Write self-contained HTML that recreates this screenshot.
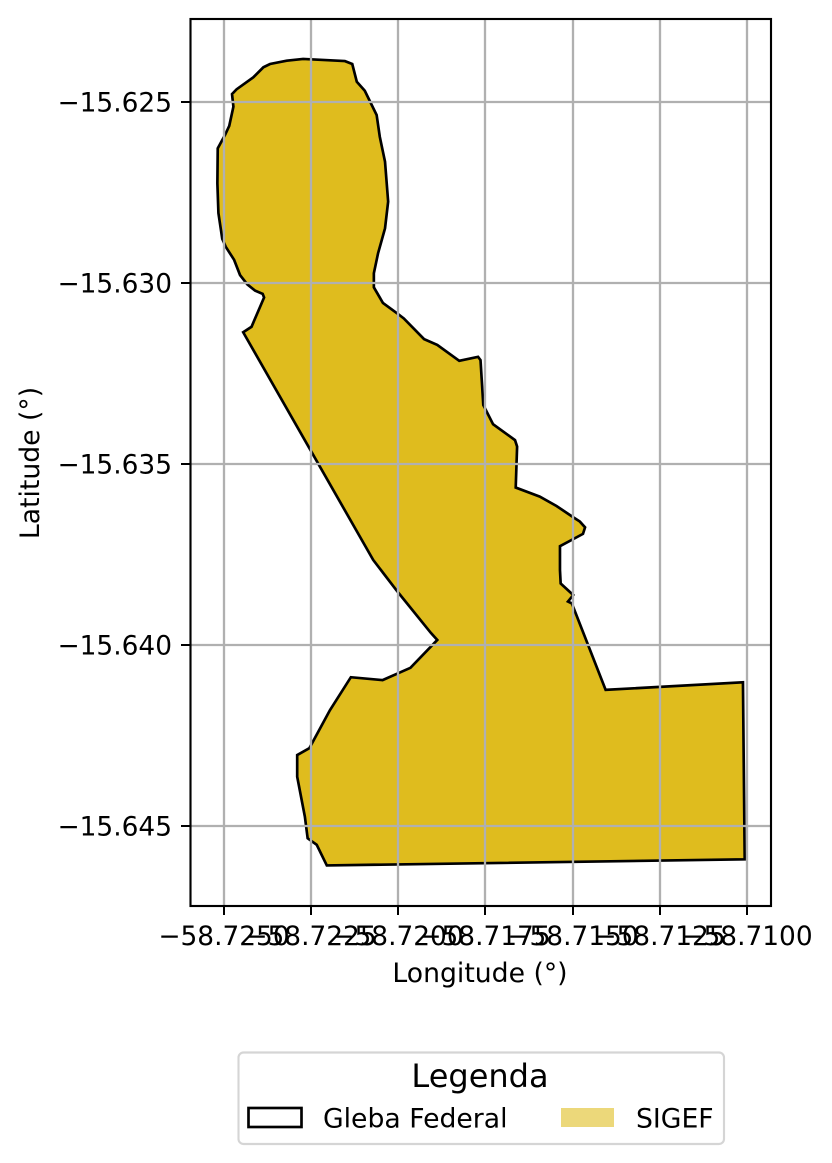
<!DOCTYPE html>
<html lang="pt">
<head>
<meta charset="utf-8">
<title>Gleba Federal e SIGEF</title>
<style>
html,body{margin:0;padding:0;background:#fff;}
svg{display:block;}
text{font-family:"DejaVu Sans","Liberation Sans",sans-serif;fill:#000;}
</style>
</head>
<body>
<svg id="chart" xmlns="http://www.w3.org/2000/svg" width="832" height="1163" viewBox="0 0 832 1163">
  <rect x="0" y="0" width="832" height="1163" fill="#ffffff"/>
  <g id="polygons"></g>
  <g id="grid"></g>
  <g id="ticks"></g>
  <rect x="190.5" y="19" width="580.5" height="887" fill="none" stroke="#000" stroke-width="2.13"/>
  <text x="480" y="982" font-size="26.67" text-anchor="middle">Longitude (°)</text>
  <text transform="translate(39,463) rotate(-90)" font-size="26.67" text-anchor="middle">Latitude (°)</text>
  <g>
    <rect x="238.5" y="1052.5" width="485.5" height="91.5" rx="5" ry="5" fill="#ffffff" stroke="#d5d5d5" stroke-width="2.13"/>
    <text x="480" y="1087" font-size="32" text-anchor="middle">Legenda</text>
    <rect x="248.5" y="1108" width="53" height="19" fill="none" stroke="#000" stroke-width="2.67"/>
    <text x="323" y="1127.5" font-size="26.67">Gleba Federal</text>
    <rect x="561" y="1108" width="53" height="19" fill="#ecd87a"/>
    <text x="636" y="1127.5" font-size="26.67">SIGEF</text>
  </g>
</svg>
<script>
var xTickValues = [-58.725, -58.7225, -58.72, -58.7175, -58.715, -58.7125, -58.71];
var xTickLabels = ['\u221258.7250', '\u221258.7225', '\u221258.7200', '\u221258.7175', '\u221258.7150', '\u221258.7125', '\u221258.7100'];
var yTickValues = [-15.625, -15.63, -15.635, -15.64, -15.645];
var yTickLabels = ['\u221215.625', '\u221215.630', '\u221215.635', '\u221215.640', '\u221215.645'];

var boundaryLon = [
-58.72445,-58.72421,-58.72385,-58.72389,-58.72411,-58.72433,-58.72454,-58.72471,-58.72495,-58.72505,
-58.72516,-58.72519,-58.72518,-58.72497,-58.72485,-58.72473,-58.72477,-58.72464,-58.72416,-58.72387,
-58.72368,-58.72320,-58.72273,-58.72153,-58.72132,-58.72119,-58.72096,-58.72062,-58.72053,-58.72038,
-58.72029,-58.72038,-58.72058,-58.72070,-58.72070,-58.72044,-58.72000,-58.71984,-58.71926,-58.71888,
-58.71825,-58.71771,-58.71764,-58.71756,-58.71728,-58.71665,-58.71659,-58.71663,-58.71594,-58.71546,
-58.71498,-58.71479,-58.71464,-58.71470,-58.71536,-58.71536,-58.71534,-58.71498,-58.71513,-58.71502,
-58.71405,-58.71011,-58.71006,-58.72205,-58.72234,-58.72260,-58.72268,-58.72290,-58.72290,-58.72255,
-58.72196,-58.72136,-58.72045,-58.71965,-58.71888,-58.71907,-58.72001,-58.72072
];
var boundaryLat = [
-15.63136,-15.63121,-15.63040,-15.63030,-15.63021,-15.63004,-15.62978,-15.62936,-15.62900,-15.62878,
-15.62807,-15.62725,-15.62628,-15.62591,-15.62566,-15.62513,-15.62478,-15.62465,-15.62432,-15.62404,
-15.62395,-15.62386,-15.62381,-15.62387,-15.62395,-15.62444,-15.62469,-15.62536,-15.62596,-15.62665,
-15.62775,-15.62849,-15.62918,-15.62973,-15.63012,-15.63055,-15.63086,-15.63098,-15.63155,-15.63171,
-15.63215,-15.63204,-15.63213,-15.63337,-15.63390,-15.63434,-15.63452,-15.63565,-15.63590,-15.63616,
-15.63647,-15.63659,-15.63675,-15.63693,-15.63727,-15.63793,-15.63830,-15.63862,-15.63880,-15.63885,
-15.64124,-15.64103,-15.64592,-15.64609,-15.64552,-15.64534,-15.64474,-15.64364,-15.64304,-15.64285,
-15.64180,-15.64089,-15.64097,-15.64063,-15.63986,-15.63966,-15.63854,-15.63765
];

var NS = 'http://www.w3.org/2000/svg';
function xAxis(lon) { return 224 + (lon + 58.725) / 0.0025 * 87.13; }
function yAxis(lat) { return 102 + (-15.625 - lat) / 0.005 * 181; }
function make(tag, parent) {
  var el = document.createElementNS(NS, tag);
  parent.appendChild(el);
  return el;
}

var polygons = document.getElementById('polygons');
var grid = document.getElementById('grid');
var ticks = document.getElementById('ticks');

var pts = [];
for (var i = 0; i < boundaryLon.length; i++) {
  pts.push(xAxis(boundaryLon[i]).toFixed(2) + ',' + yAxis(boundaryLat[i]).toFixed(2));
}
var sigef = make('polygon', polygons);


sigef.setAttribute('points', pts.join(' '));
sigef.setAttribute('fill', '#dfbc1e');
var gleba = make('polygon', polygons);


gleba.setAttribute('points', pts.join(' '));
gleba.setAttribute('fill', 'none');
gleba.setAttribute('stroke', '#000');
gleba.setAttribute('stroke-width', '2.67');
gleba.setAttribute('stroke-linejoin', 'miter');

xTickValues.forEach(function (v, k) {
  var x = Math.round(xAxis(v));
  var g = make('line', grid);
  
  
  g.setAttribute('x1', x); g.setAttribute('x2', x);
  g.setAttribute('y1', 19); g.setAttribute('y2', 906);
  g.setAttribute('stroke', '#b0b0b0'); g.setAttribute('stroke-width', '2.3');
  var t = make('line', ticks);
  
  
  t.setAttribute('x1', x); t.setAttribute('x2', x);
  t.setAttribute('y1', 906); t.setAttribute('y2', 915);
  t.setAttribute('stroke', '#000'); t.setAttribute('stroke-width', '2');
  var l = make('text', ticks);
  
  
  l.setAttribute('x', x); l.setAttribute('y', 945);
  l.setAttribute('font-size', '26.4');
  l.setAttribute('text-anchor', 'middle');
  l.textContent = xTickLabels[k];
});

yTickValues.forEach(function (v, k) {
  var y = Math.round(yAxis(v));
  var g = make('line', grid);
  
  
  g.setAttribute('x1', 190.5); g.setAttribute('x2', 771);
  g.setAttribute('y1', y); g.setAttribute('y2', y);
  g.setAttribute('stroke', '#b0b0b0'); g.setAttribute('stroke-width', '2.3');
  var t = make('line', ticks);
  
  
  t.setAttribute('x1', 181); t.setAttribute('x2', 190.5);
  t.setAttribute('y1', y); t.setAttribute('y2', y);
  t.setAttribute('stroke', '#000'); t.setAttribute('stroke-width', '2');
  var l = make('text', ticks);
  
  
  l.setAttribute('x', 172); l.setAttribute('y', y + 9.7);
  l.setAttribute('font-size', '26.4');
  l.setAttribute('text-anchor', 'end');
  l.textContent = yTickLabels[k];
});
</script>
</body>
</html>
